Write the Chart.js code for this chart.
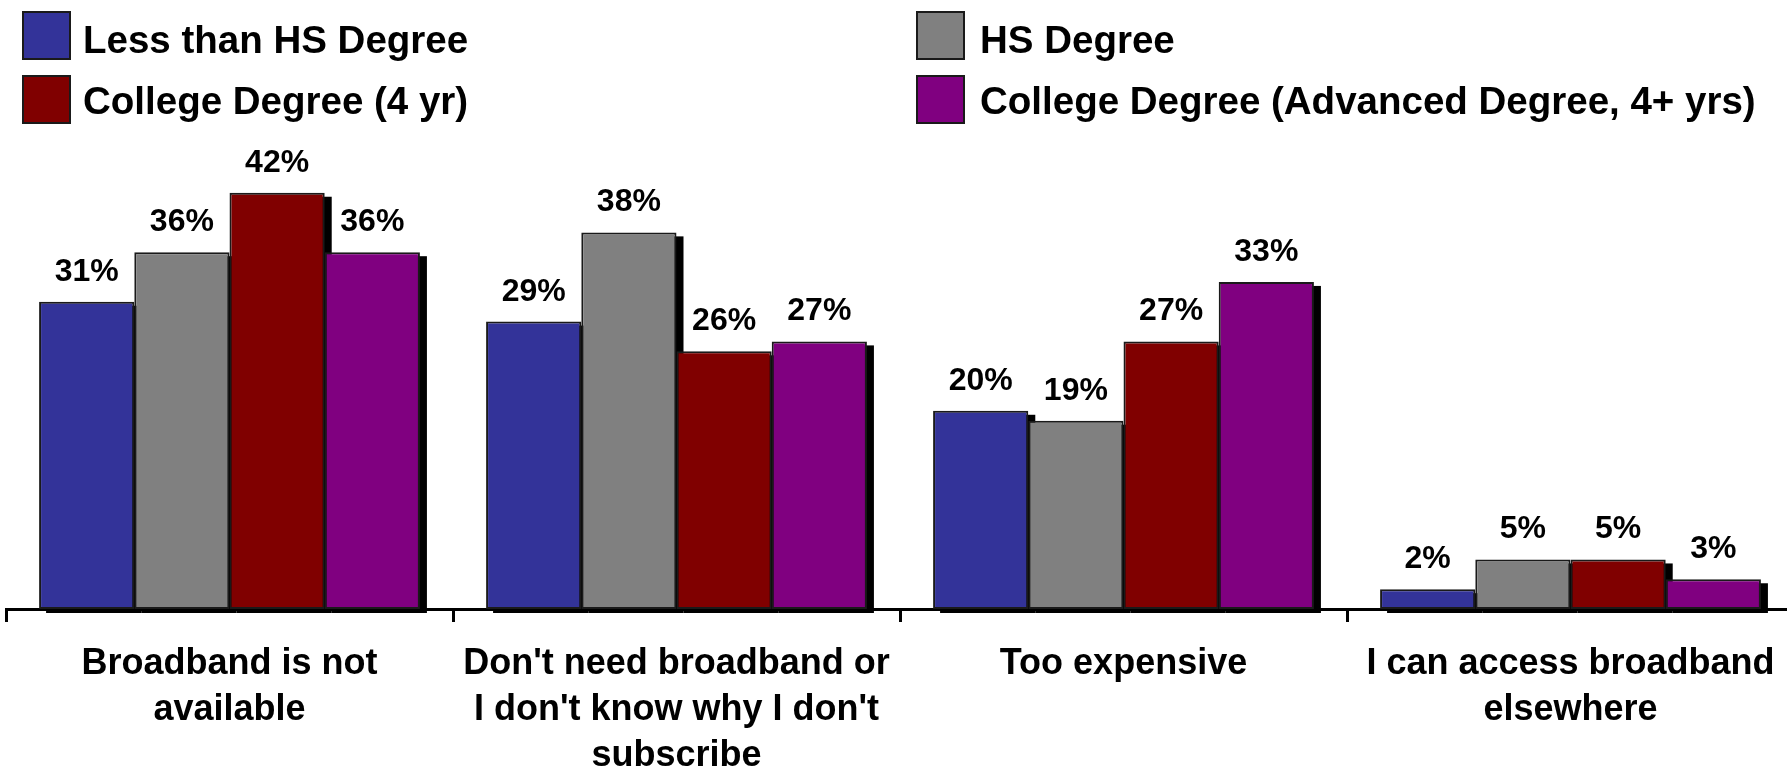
<!DOCTYPE html>
<html>
<head>
<meta charset="utf-8">
<script src="https://cdn.jsdelivr.net/npm/chart.js@4.4.1/dist/chart.umd.min.js"></script>
<style>
	html, body { margin: 0; padding: 0; background: #fff; overflow: hidden; }
	#wrap { position: relative; width: 1800px; height: 771px; }
	#legend { position: absolute; left: 0; top: 0; width: 1787px; height: 130px;
		font-family: "Liberation Sans", Arial, sans-serif; font-weight: bold; font-size: 38.5px; color: #000; }
	.box { position: absolute; width: 45px; height: 45px; border: 2px solid #1a1a1a; }
	.lbl { position: absolute; line-height: 38.5px; white-space: nowrap; }
</style>
</head>
<body>
<div id="wrap">
	<canvas id="chart" width="1800" height="771"></canvas>
	<div id="legend"></div>
</div>
<script>
// categories (x axis), one line per array entry
var categories = [
	["Broadband is not", "available"],
	["Don't need broadband or", "I don't know why I don't", "subscribe"],
	["Too expensive"],
	["I can access broadband", "elsewhere"]
];

var seriesNames = [
	"Less than HS Degree",
	"HS Degree",
	"College Degree (4 yr)",
	"College Degree (Advanced Degree, 4+ yrs)"
];
var seriesColors = ["#333399", "#808080", "#800000", "#800080"];

// percent values per series
var lessThanHS = [31, 29, 20, 2];
var hsDegree = [36, 38, 19, 5];
var college4yr = [42, 26, 27, 5];
var collegeAdvanced = [36, 27, 33, 3];

var seriesValues = [lessThanHS, hsDegree, college4yr, collegeAdvanced];

// legend, two columns like the original: box x/y, text x/y
var legendBoxes = [[22, 11], [916, 11], [22, 75], [916, 75]];
var legendTexts = [[83, 21], [980, 21], [83, 82], [980, 82]];
var legendDiv = document.getElementById("legend");
seriesNames.forEach(function(name, i) {
	var box = document.createElement("div");
	box.className = "box";
	box.style.left = legendBoxes[i][0] + "px";
	box.style.top = legendBoxes[i][1] + "px";
	box.style.background = seriesColors[i];
	legendDiv.appendChild(box);
	var lbl = document.createElement("div");
	lbl.className = "lbl";
	lbl.style.left = legendTexts[i][0] + "px";
	lbl.style.top = legendTexts[i][1] + "px";
	lbl.textContent = name;
	legendDiv.appendChild(lbl);
});

// black drop shadow behind every bar, drawn before the bars
var barShadows = {
	id: 'barShadows',
	beforeDatasetsDraw: function(chart) {
		var ctx = chart.ctx;
		ctx.save();
		ctx.fillStyle = '#000';
		chart.data.datasets.forEach(function(ds, i) {
			chart.getDatasetMeta(i).data.forEach(function(bar) {
				var w = bar.width;
				ctx.fillRect(bar.x - w / 2 + 7, bar.y + 4, w, bar.base - bar.y);
			});
		});
		ctx.restore();
	}
};

var valueLabels = {
	id: 'valueLabels',
	afterDatasetsDraw: function(chart) {
		var ctx = chart.ctx;
		ctx.save();
		ctx.font = 'bold 32px "Liberation Sans", Arial, sans-serif';
		ctx.fillStyle = '#000';
		ctx.textAlign = 'center';
		ctx.textBaseline = 'alphabetic';
		chart.data.datasets.forEach(function(ds, i) {
			chart.getDatasetMeta(i).data.forEach(function(bar, j) {
				ctx.fillText(ds.data[j] + '%', bar.x, bar.y - 21);
			});
		});
		ctx.restore();
	}
};

var ctx = document.getElementById("chart");
var myChart = new Chart(ctx, {
	type: 'bar',
	data: {
		labels: categories,
		datasets: seriesNames.map(function(name, i) {
			return {
				label: name,
				data: seriesValues[i],
				backgroundColor: seriesColors[i],
				borderColor: '#1a1a1a',
				borderWidth: 2,
				borderSkipped: false,
				categoryPercentage: 0.852,
				barPercentage: 1.0
			};
		})
	},
	options: {
		responsive: false,
		animation: false,
		layout: {
			padding: { left: 6, right: 6, top: 163, bottom: 0 }
		},
		plugins: {
			legend: { display: false },
			tooltip: { enabled: false }
		},
		scales: {
			x: {
				offset: true,
				grid: {
					offset: true,
					drawOnChartArea: false,
					drawTicks: true,
					tickLength: 13,
					lineWidth: 3,
					color: '#000'
				},
				border: { display: true, color: '#000', width: 3 },
				ticks: {
					color: '#000',
					padding: 19,
					maxRotation: 0,
					autoSkip: false,
					font: { family: '"Liberation Sans", Arial, sans-serif', size: 36, weight: 'bold', lineHeight: 1.28 }
				},
				afterFit: function(scale) { scale.height = 162; }
			},
			y: {
				display: false,
				min: 0,
				max: 45
			}
		}
	},
	plugins: [barShadows, valueLabels]
});
</script>
</body>
</html>
